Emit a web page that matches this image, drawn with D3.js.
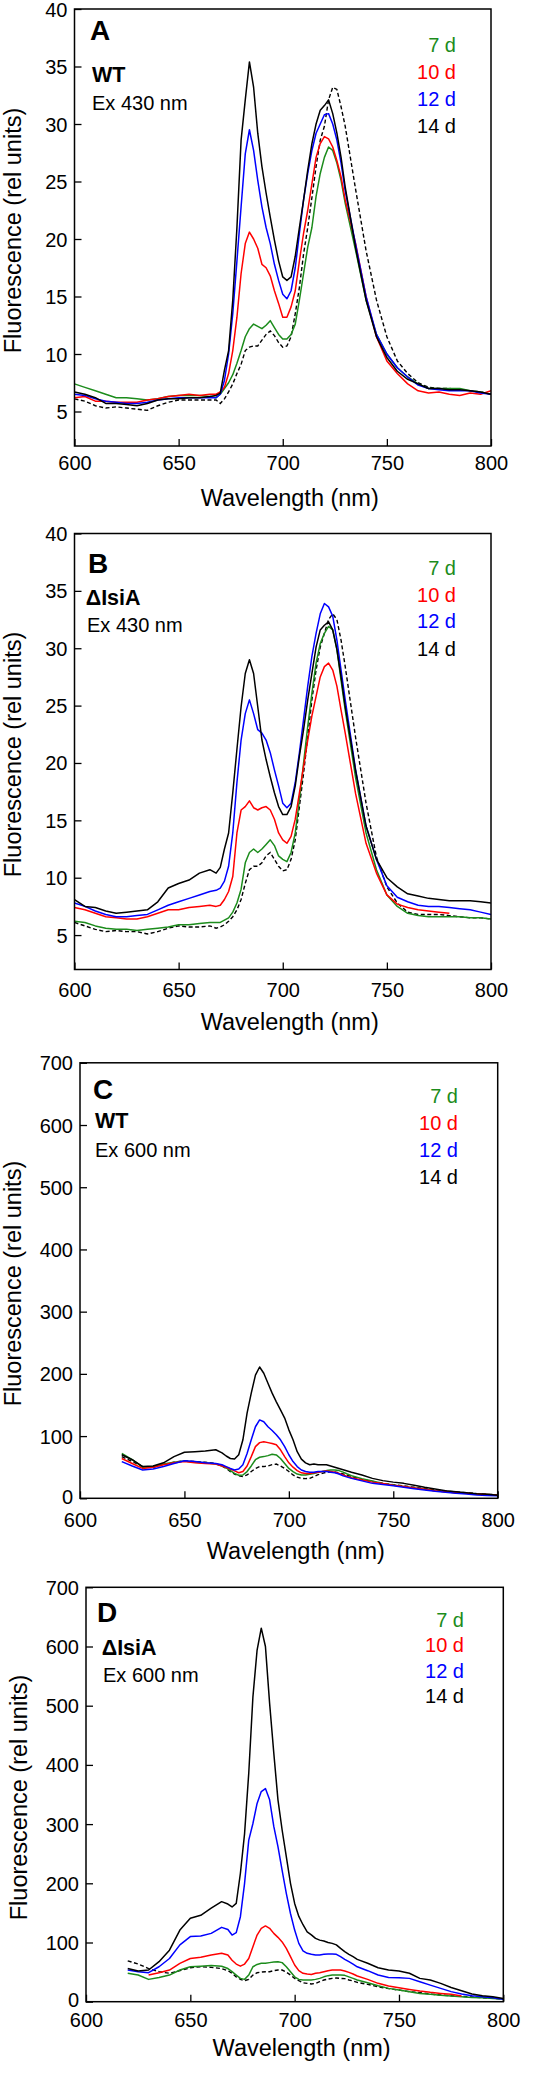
<!DOCTYPE html>
<html><head><meta charset="utf-8">
<script src="https://cdn.jsdelivr.net/npm/d3@7"></script>
<style>
html,body{margin:0;padding:0;background:#fff;}
svg text{font-family:"Liberation Sans",Arial,Helvetica,sans-serif;}
</style></head>
<body>
<svg id="chart" width="547" height="2090"></svg>
<script>
// ---------- DATA ----------
const wavelengths = [600,605,610,615,620,625,630,635,640,645,650,655,660,665,668,670,672,674,676,678,680,682,684,686,688,690,692,694,696,698,700,702,704,706,708,710,712,714,716,718,720,722,724,726,728,730,735,740,745,750,755,760,765,770,775,780,785,790,795,800];
const seriesLabels = ["7 d","10 d","12 d","14 d"];
const xTicks = [600,650,700,750,800];
const yTicksAB = [5,10,15,20,25,30,35,40];
const yTicksCD = [0,100,200,300,400,500,600,700];
const panelLetters = ["A","B","C","D"];
const strainLabels = ["WT","\u0394IsiA","WT","\u0394IsiA"];
const excitationLabels = ["Ex 430 nm","Ex 430 nm","Ex 600 nm","Ex 600 nm"];
const xTitle = "Wavelength (nm)";
const yTitle = "Fluorescence (rel units)";
const N = null;

// Panel A: WT, Ex 430
const A_7d  = [7.4,7.1,6.8,6.5,6.2,6.2,6.1,6.0,6.1,6.3,6.4,6.4,6.4,6.3,6.2,6.5,7.0,7.5,8.2,9.2,10.3,11.5,12.2,12.6,12.4,12.2,12.5,12.9,12.3,11.7,11.3,11.3,11.7,12.6,14.7,17.0,19.3,21.0,23.7,25.7,27.1,28.0,27.7,26.6,25.1,23.1,19.0,14.7,11.7,10.0,8.8,8.0,7.4,7.0,7.0,7.0,7.0,6.8,6.7,6.5];
const A_10d = [6.2,6.3,5.9,5.9,5.8,5.8,5.8,6.0,6.1,6.3,6.4,6.5,6.4,6.5,6.5,6.7,7.1,8.3,10.3,13.2,17.0,19.6,20.6,20.0,19.2,17.8,17.5,16.8,15.5,14.4,13.2,13.2,14.1,15.5,18.1,20.5,22.5,24.8,27.1,28.3,28.9,28.7,28.0,26.8,25.4,23.4,19.6,15.0,11.5,9.4,8.3,7.4,6.8,6.6,6.7,6.5,6.4,6.6,6.5,6.8];
const A_12d = [6.5,6.4,6.1,5.9,5.8,5.7,5.7,5.8,6.0,6.1,6.2,6.2,6.2,6.2,6.2,6.5,7.7,10.0,13.5,18.1,22.8,27.4,29.5,27.7,25.1,22.8,21.0,19.6,17.8,16.4,15.2,14.8,15.5,17.5,20.5,23.4,25.7,27.7,29.2,30.0,30.8,30.9,30.0,28.6,26.6,24.2,19.5,15.0,11.7,10.0,8.8,8.0,7.3,7.0,6.9,6.8,6.8,6.8,6.6,6.5];
const A_14d = [6.7,6.5,6.2,5.7,5.7,5.6,5.5,5.7,6.0,6.1,6.1,6.2,6.2,6.3,6.4,6.6,8.6,10.3,14.7,21.0,28.6,32.1,35.4,33.2,29.2,26.3,24.0,21.9,19.9,18.1,16.7,16.4,16.7,18.5,21.0,23.4,26.0,28.3,30.0,31.2,31.6,32.1,30.9,29.2,27.1,24.5,19.2,14.7,11.5,9.7,8.5,7.8,7.4,7.0,7.0,6.9,6.9,6.8,6.7,6.5];
const A_ref = [6.1,5.9,5.5,5.3,5.4,5.3,5.2,5.1,5.5,5.8,6.0,6.0,6.0,6.0,6.0,5.7,6.1,6.7,7.4,8.3,9.1,10.3,10.6,10.7,10.7,11.2,11.7,12.0,11.6,11.0,10.6,10.7,11.5,13.5,15.8,18.7,21.0,23.6,26.3,28.6,29.8,32.1,33.2,33.0,31.5,29.8,24.3,19.0,14.7,11.5,9.4,8.3,7.5,7.1,7.0,7.0,6.9,6.8,6.7,6.5];

// Panel B: ΔIsiA, Ex 430
const B_7d  = [6.2,6.1,5.8,5.6,5.5,5.5,5.4,5.5,5.6,5.7,5.9,5.9,6.0,6.1,6.1,6.1,6.3,6.5,7.0,7.8,9.0,11.3,12.2,12.5,12.2,12.5,12.9,13.3,12.8,11.9,11.6,11.4,12.2,13.9,16.8,20.0,23.2,26.1,28.7,30.4,31.3,31.9,31.6,29.9,27.2,24.6,18.7,13.9,10.7,8.5,7.5,6.9,6.7,6.6,6.6,6.6,6.6,6.5,6.5,6.4];
const B_10d = [7.4,7.2,6.9,6.6,6.5,6.4,6.4,6.6,6.9,7.2,7.2,7.4,7.5,7.6,7.5,7.6,8.1,8.8,10.1,13.9,15.9,16.2,16.7,16.1,15.9,16.1,16.2,15.9,15.1,13.9,13.3,13.0,13.6,15.1,17.4,19.7,22.0,24.1,25.8,27.5,28.4,28.7,28.1,26.7,24.6,22.6,17.3,13.0,10.4,8.5,7.7,7.4,7.2,7.1,7.0,6.9,N,N,N,N];
const B_12d = [7.8,7.5,7.1,6.8,6.6,6.6,6.7,6.8,7.2,7.6,7.9,8.2,8.5,8.8,8.9,9.1,9.7,11.0,13.9,18.3,22.0,24.3,25.5,24.3,22.9,22.6,22.0,20.9,19.4,18.0,16.5,16.1,16.5,18.3,20.9,23.8,26.7,29.3,31.3,33.0,33.9,33.6,32.8,30.7,28.1,25.5,19.4,14.5,11.6,9.3,8.3,7.9,7.6,7.5,7.5,7.4,7.3,7.2,7.0,6.8];
const B_14d = [8.1,7.5,7.4,7.1,6.9,7.0,7.1,7.2,7.9,9.1,9.5,9.8,10.4,10.7,10.4,10.9,12.5,13.9,17.4,21.2,24.9,27.8,29.0,27.8,24.9,22.0,20.3,18.8,17.4,16.2,15.5,15.5,16.2,18.0,20.6,22.9,25.5,27.8,30.1,31.6,32.0,32.3,31.6,29.9,27.5,24.9,19.3,14.5,11.6,10.0,9.2,8.6,8.4,8.2,8.1,8.0,8.0,8.0,7.9,7.8];
const B_ref = [6.1,5.8,5.5,5.3,5.4,5.3,5.3,5.1,5.3,5.6,5.8,5.7,5.7,5.8,5.6,5.7,5.9,6.2,6.6,7.2,8.1,9.5,10.7,11.0,11.0,11.3,11.9,12.2,11.6,11.0,10.6,10.7,11.6,13.3,16.2,19.1,22.3,25.5,28.1,30.1,31.3,32.5,33.0,32.5,30.7,28.4,22.2,16.5,11.8,9.2,7.8,7.0,6.8,6.8,6.8,6.7,6.6,6.5,6.5,6.4];

// Panel C: WT, Ex 600
const C_7d  = [N,N,N,N,72,62,50,51,55,58,60,58,57,55,52,49,44.5,40,37,37.5,43,52,62,66,67,68.6,70.7,69.7,64,56,48,43,39,37.5,37.5,38.6,40,42,43,44.5,45.5,45.5,44.5,42,39,36.4,31.6,27.9,24,21.4,18.8,16.6,14.5,12.3,10.7,9,8,7,6,5];
const C_10d = [N,N,N,N,64,56,48,50,54,57,59,57,56,55,52,50,47,44,41,43,52,67,83,89.5,91,89.5,88,86,78,67,57,50,44.5,41,40,40,41,42,43,44,43,42,40,37.5,35,33,29.5,26,23.6,21,18.8,16.6,14.5,12.3,10.7,9,8,7,6,5];
const C_12d = [N,N,N,N,59,52,45.5,47,51,56,60.5,59,57,56,54,51,48,45.5,47,54,72,94,115,126,123,115,109,102,94,83,70,59,51,45.5,43,42,42,43,43,43,42,41,39,36,34,32,28,24,22,20,17.7,15.5,13.4,11.3,9.6,8,7,5.4,4.3,4];
const C_14d = [N,N,N,N,70,62,51,52,57,67,74,75,76,78,73,68,64,63,70,94,137,169,198,211,201,185,169,155,142,129,110,94,75,63,57,54,55,54,54,54,52,50,48,46,44,42,37.5,32,28.4,26,24,21,17.7,15,12.3,10.7,9,7.5,6.5,5];
const C_ref = [N,N,N,N,67,59,51,50,54,58,60.5,59,58,56,52,48,43,39,36,35,37.5,43,48,51,51,52,54,55,52,48,43,37.5,34,32,31.6,32,35,38,40,42,42.3,42.3,41,39,37,35,30.5,27.3,24,22,19.8,17.7,15.5,13.4,11.8,10.2,9,7.5,6.5,5.5];

// Panel D: ΔIsiA, Ex 600
const D_7d  = [N,N,N,N,48,45,37.7,41,45,53.5,59,60,61,60,56,50.7,45,39.4,37.7,45,59,63,64.8,64.8,66,67,67.6,66,59,50.7,42,37.7,36.6,36.6,36.6,37.7,39.4,42,44,45,45,45,44.5,42,39.4,36.6,32,27,22.5,19.7,17,14,12.4,10.7,9.6,8.4,7.3,6.8,5.6,4.5];
const D_10d = [N,N,N,N,N,N,45,49,53.5,64.8,73,75,78.8,81.7,78.8,70,63.6,60,63.6,73,93,112.6,124,128,124,115.4,108.7,101,90,76,62,52.4,48,46.7,46,48,49,50.7,52.4,53.5,53.5,53.5,51.8,49.5,46.7,43.4,37.7,31,26.5,23.7,20.8,18,15.8,14,12.4,9.6,N,N,N,N];
const D_12d = [N,N,N,N,53.5,50.7,49,59,73,96,110,111,115.4,125.6,122,112.6,116.6,143.6,200,273,301,335,355,360,341,296,262,222,183,149,121,98.5,86,81.7,80,78.8,79,80,80.5,80.5,80,76,71.5,67.6,63.6,59,52.4,45,41,40.5,39.4,33.8,28,22.5,17,13,10,8.4,6.8,4];
const D_14d = [N,N,N,N,56,52,53.5,67.6,87,121,141,146,158,169,165,160,166,217,284,386,515,594,631,600,504,420,341,290,245,200,166,144,130,118,113,107,104,102.5,100,98.5,96,90,84.5,80,76,71.5,65,57.4,53.5,52,48,39.4,36.6,31,24,18.6,13,10,8.4,5.6];
const D_ref = [N,N,N,N,69,63.6,56,50.7,48,52.4,57.4,59,58,56,52.4,48,42,37.7,35.5,37.7,45,49,50,50.7,50.7,52.4,53.5,53.5,50,45,39.4,35.5,32,31,30,31,33.8,36.6,38.3,39.4,40,39.4,38.9,36.6,35,32.7,29.3,25.3,22,19.7,17,15.2,13,11.3,10,9,7.9,6.8,5.6,4.5];

// ---------- LAYOUT ----------
const colors = ["#1c8c1c","#ff0000","#0000ff","#000000"];
const panels = [
  {left:74.5, right:491, top:9, bottom:446, dom:[2,40], yt:yTicksAB, series:[A_7d,A_10d,A_12d,A_14d], ref:A_ref,
   letter:[90,40], strain:[92,81.7], ex:[92,110], legX:456, legY:[52,79,106,133], tickY:470, titleY:506, yTitleX:21},
  {left:74.5, right:491, top:533.5, bottom:969.5, dom:[2,40], yt:yTicksAB, series:[B_7d,B_10d,B_12d,B_14d], ref:B_ref,
   letter:[88,572.7], strain:[85.7,605], ex:[87,632], legX:456, legY:[575,601.7,628,656], tickY:997, titleY:1030, yTitleX:21},
  {left:80, right:497.7, top:1062.8, bottom:1498.3, dom:[0,700], yt:yTicksCD, series:[C_7d,C_10d,C_12d,C_14d], ref:C_ref,
   letter:[93,1099], strain:[95,1128], ex:[95,1156.7], legX:458, legY:[1103.3,1130,1156.7,1184], tickY:1527, titleY:1559, yTitleX:21},
  {left:86, right:503.3, top:1587.3, bottom:2001.7, dom:[0,700], yt:yTicksCD, series:[D_7d,D_10d,D_12d,D_14d], ref:D_ref,
   letter:[97,1621.7], strain:[101.7,1655], ex:[103,1681.7], legX:464, legY:[1627,1652,1677.7,1703], tickY:2027, titleY:2056, yTitleX:27}
];

const svg = d3.select("#chart");

panels.forEach((p, i) => {
  const x = d3.scaleLinear().domain([600,800]).range([p.left, p.right]);
  const y = d3.scaleLinear().domain(p.dom).range([p.bottom, p.top]);
  const g = svg.append("g");

  const line = d3.line()
    .defined(d => d[1] !== null)
    .x(d => x(d[0])).y(d => y(d[1]));
  const pairs = arr => wavelengths.map((w, k) => [w, arr[k]]);

  const clipId = "clip" + i;
  g.append("clipPath").attr("id", clipId).append("rect")
    .attr("x", p.left).attr("y", p.top).attr("width", p.right - p.left).attr("height", p.bottom - p.top);
  const curves = g.append("g").attr("clip-path", `url(#${clipId})`);

  curves.append("path").datum(pairs(p.ref)).attr("d", line)
    .attr("fill","none").attr("stroke","#000").attr("stroke-width",1.4).attr("stroke-dasharray","4,2.5");
  p.series.forEach((s, k) => {
    curves.append("path").datum(pairs(s)).attr("d", line)
      .attr("fill","none").attr("stroke",colors[k]).attr("stroke-width",1.5).attr("stroke-linejoin","round");
  });

  // axes with inward ticks
  const xAxis = d3.axisBottom(x).tickValues(xTicks).tickSizeInner(-7).tickSizeOuter(0).tickPadding(0);
  const gx = g.append("g").attr("transform", `translate(0,${p.bottom})`).call(xAxis);
  gx.select(".domain").remove();
  gx.selectAll(".tick line").attr("stroke","#000").attr("stroke-width",1.3);
  gx.selectAll(".tick text").remove();
  gx.selectAll(".tick").append("text")
    .attr("y", p.tickY - p.bottom).attr("text-anchor","middle")
    .attr("font-size",20).attr("fill","#000").text(d => d);

  const yAxis = d3.axisLeft(y).tickValues(p.yt).tickSizeInner(-7).tickSizeOuter(0).tickPadding(0);
  const gy = g.append("g").attr("transform", `translate(${p.left},0)`).call(yAxis);
  gy.select(".domain").remove();
  gy.selectAll(".tick line").attr("stroke","#000").attr("stroke-width",1.3);
  gy.selectAll(".tick text").remove();
  gy.selectAll(".tick").append("text")
    .attr("x", -7).attr("dy", d => (d === 0 ? "0.25em" : "0.35em")).attr("text-anchor","end")
    .attr("font-size",20).attr("fill","#000").text(d => d);

  g.append("rect").attr("x", p.left).attr("y", p.top)
    .attr("width", p.right - p.left).attr("height", p.bottom - p.top)
    .attr("fill","none").attr("stroke","#000").attr("stroke-width",1.5);

  // titles
  g.append("text").attr("x", (p.left + p.right)/2 + 7).attr("y", p.titleY)
    .attr("text-anchor","middle").attr("font-size",23.5).text(xTitle);
  g.append("text")
    .attr("transform", `translate(${p.yTitleX},${(p.top + p.bottom)/2 + 3}) rotate(-90)`)
    .attr("text-anchor","middle").attr("font-size",23.5).text(yTitle);

  // annotations
  g.append("text").attr("x", p.letter[0]).attr("y", p.letter[1])
    .attr("font-size",28).attr("font-weight","bold").text(panelLetters[i]);
  g.append("text").attr("x", p.strain[0]).attr("y", p.strain[1])
    .attr("font-size",21.5).attr("font-weight","bold").text(strainLabels[i]);
  g.append("text").attr("x", p.ex[0]).attr("y", p.ex[1])
    .attr("font-size",20).text(excitationLabels[i]);

  seriesLabels.forEach((lab, k) => {
    g.append("text").attr("x", p.legX).attr("y", p.legY[k])
      .attr("text-anchor","end").attr("font-size",20).attr("fill",colors[k]).text(lab);
  });
});
</script>
</body></html>
